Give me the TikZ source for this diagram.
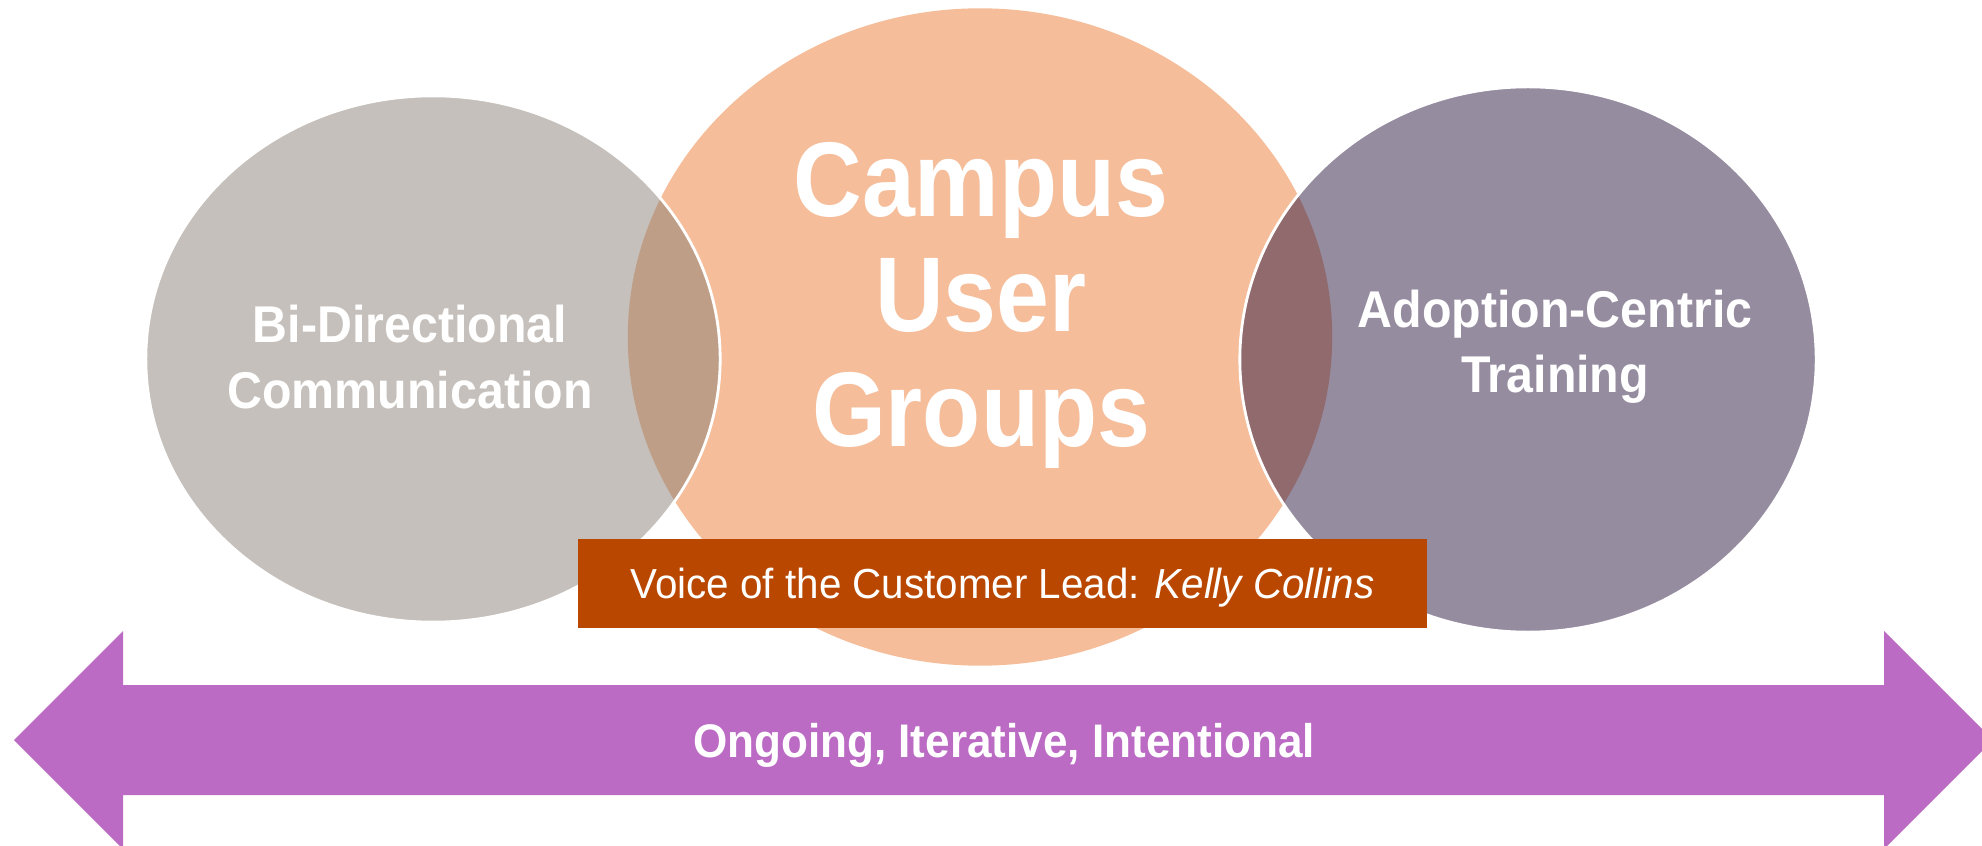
\documentclass[tikz,border=0pt]{standalone}
\usepackage{fontspec}
\setmainfont{Liberation Sans}
\newfontfamily\lblfont[FakeStretch=0.935]{Liberation Sans}
\newfontfamily\bigfont[FakeStretch=0.895]{Liberation Sans}
\newfontfamily\voicefont[FakeStretch=0.96]{Liberation Sans}
\usetikzlibrary{shapes.geometric}
\definecolor{grayc}{RGB}{139,129,119}
\definecolor{orangec}{RGB}{245,189,153}
\definecolor{purplec}{RGB}{45,25,65}
\definecolor{rustc}{RGB}{185,71,0}
\definecolor{arrowc}{RGB}{187,107,196}
\begin{document}
\begin{tikzpicture}[x=0.01cm,y=-0.01cm,
  blob/.style={ellipse,inner sep=0pt,outer sep=0pt},
  side/.style={blob,fill opacity=0.5,draw=white,draw opacity=1,line width=0.8pt},
  lbl/.style={text=white,align=center,inner sep=0pt,font=\lblfont\bfseries\fontsize{14.7}{18.5}\selectfont},
]
\useasboundingbox (0,0) rectangle (1982,846);
\clip (0,0) rectangle (1982,846);
\node[blob,fill=orangec,minimum width=7.04cm,minimum height=6.57cm] (center) at (980,337) {};
\node[side,fill=grayc,minimum width=5.74cm,minimum height=5.26cm] (left) at (433,359) {};
\node[side,fill=purplec,minimum width=5.76cm,minimum height=5.45cm] (right) at (1528,359.5) {};
\node[lbl] (bidir) at (410,357) {Bi-Directional\\Communication};
\node[lbl] (adopt) at (1555,346.5) {Adoption-Centric\\Training};
\node[lbl,font=\bigfont\bfseries\fontsize{30.2}{32.7}\selectfont] (cug) at (981,305) {Campus\\User\\Groups};
\node[fill=rustc,minimum width=8.49cm,minimum height=0.89cm,inner sep=0pt,text=white,
  font=\voicefont\fontsize{11.95}{14}\selectfont,text height=0.30cm,text depth=0pt] (voice) at (1002.5,583.5)
  {Voice of the Customer Lead: \textit{Kelly Collins}};
\fill[arrowc] (14,740) -- (123,631) -- (123,685) -- (1884,685) -- (1884,631) -- (1993,740)
  -- (1884,849) -- (1884,795) -- (123,795) -- (123,849) -- cycle;
\node[text=white,font=\lblfont\bfseries\fontsize{13.4}{16}\selectfont,anchor=base] (ongoing) at (1004,757)
  {Ongoing, Iterative, Intentional};
\end{tikzpicture}
\end{document}
